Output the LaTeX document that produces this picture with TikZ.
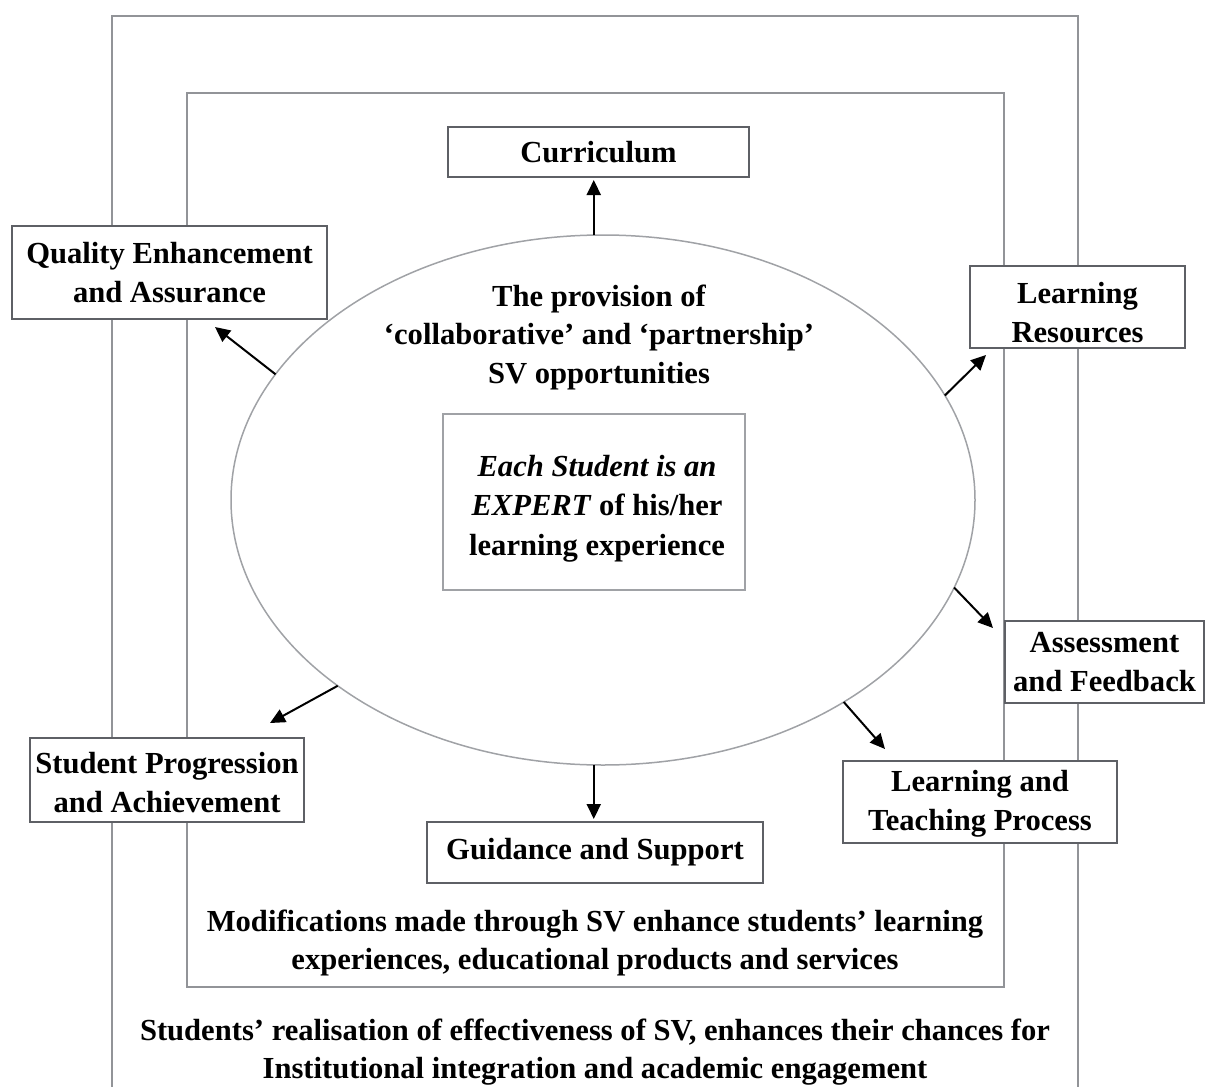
\documentclass[tikz,border=0pt]{standalone}
\usepackage{fontspec}
\setmainfont{Liberation Serif}
\usetikzlibrary{shapes.geometric,arrows.meta}
\definecolor{framegray}{HTML}{929498}
\definecolor{boxgray}{HTML}{5E6065}
\definecolor{ellgray}{HTML}{A0A2A6}
\tikzset{
  framel/.style={draw=framegray,line width=1.6pt},
  tbox/.style={draw=boxgray,line width=2pt,fill=white,rectangle,inner sep=2pt,outer sep=0pt,align=center,
    font=\fontsize{30.6}{39}\selectfont\bfseries},
  plaintxt/.style={align=center,inner sep=0pt,font=\fontsize{30.6}{38.5}\selectfont\bfseries},
  arrw/.style={draw=black,line width=2pt,-{Triangle[length=15pt,width=14pt]}}
}
\begin{document}
\begin{tikzpicture}[x=1pt,y=-1pt]
\useasboundingbox (0,0) rectangle (1205,1087);
% frames
\draw[framel] (112,1087) -- (112,16) -- (1078,16) -- (1078,1087);
\draw[framel] (187,93) rectangle (1004,987);
% ellipse
\node[ellipse,draw=ellgray,line width=1.5pt,minimum width=744pt,minimum height=530pt,inner sep=0pt,outer sep=0pt] (ell) at (603,500) {};
% ellipse text
\node[plaintxt] (prov) at (599,337) {The provision of\\‘collaborative’ and ‘partnership’\\SV opportunities};
% central box
\node[tbox,draw=ellgray,minimum width=302pt,minimum height=176pt] (expert) at (594,502) {};
\node[plaintxt,font=\fontsize{30.6}{39.5}\selectfont\bfseries] (experttxt) at (597,508.5) {\textit{Each Student is an}\\\textit{EXPERT} of his/her\\learning experience};
% outer boxes
\node[tbox,minimum width=301pt,minimum height=50pt] (cur) at (598.5,152) {Curriculum};
\node[tbox,minimum width=315pt,minimum height=93pt] (qual) at (169.5,272.5) {Quality Enhancement\\and Assurance};
\node[tbox,minimum width=215pt,minimum height=82pt,label={[plaintxt,yshift=-5.5pt]center:Learning\\Resources}] (lr) at (1077.5,307) {};
\node[tbox,minimum width=199pt,minimum height=82pt] (ass) at (1104.5,662) {Assessment\\and Feedback};
\node[tbox,minimum width=274pt,minimum height=82pt,label={[plaintxt,yshift=-2pt]center:Learning and\\Teaching Process}] (lt) at (980,802) {};
\node[tbox,minimum width=336pt,minimum height=61pt] (guid) at (595,852.5) {Guidance and Support};
\node[tbox,minimum width=274pt,minimum height=84pt,label={[plaintxt,yshift=-2.5pt]center:Student Progression\\and Achievement}] (stud) at (167,780) {};
% bottom texts
\node[plaintxt] (modif) at (595,943) {Modifications made through SV enhance students’ learning\\experiences, educational products and services};
\node[plaintxt] (realis) at (595,1052) {Students’ realisation of effectiveness of SV, enhances their chances for\\Institutional integration and academic engagement};
% arrow tips
\coordinate (tQ) at (215,327);
\coordinate (tLR) at (986,355);
\coordinate (tA) at (993,628);
\coordinate (tLT) at (885,749);
\coordinate (tS) at (270,723);
% arrows
\draw[arrw,shorten >=3pt] (ell.92) -- (ell.92 |- cur.south);
\draw[arrw,shorten >=3pt] (ell.268) -- (ell.268 |- guid.north);
\draw[arrw] (ell.159.9) -- (tQ);
\draw[arrw] (ell.17.4) -- (tLR);
\draw[arrw] (ell.-14.1) -- (tA);
\draw[arrw] (ell.-40.8) -- (tLT);
\draw[arrw] (ell.215.5) -- (tS);
\end{tikzpicture}
\end{document}
